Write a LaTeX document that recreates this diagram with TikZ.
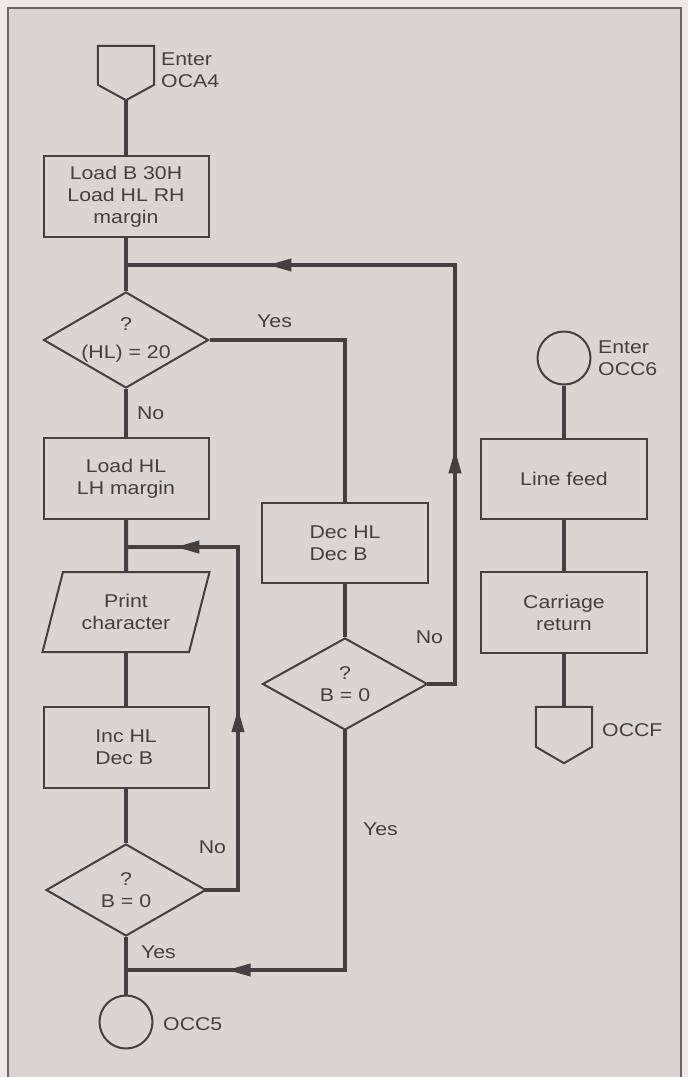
\documentclass[tikz,border=0pt]{standalone}
\usepackage{fontspec}
\setmainfont[FakeStretch=1.15]{Liberation Sans}
\usetikzlibrary{arrows.meta,shapes.geometric,decorations.markings}
\definecolor{ink}{RGB}{66,64,64}
\definecolor{paper}{RGB}{217,213,209}
\definecolor{outer}{RGB}{236,234,231}

\begin{document}
\begin{tikzpicture}[
    x=1pt, y=-1pt,
    every node/.style={font=\fontsize{18.5}{22}\selectfont, text=ink},
    box/.style={draw=ink, line width=2pt, rectangle, minimum width=165pt, minimum height=81pt, align=center, inner sep=0pt},
    dec/.style={draw=ink, line width=2pt, diamond, aspect=1.7, minimum width=165pt, minimum height=96pt, inner xsep=-15pt, inner ysep=-4pt, align=center},
    io/.style={draw=ink, line width=2pt, trapezium, trapezium left angle=68, trapezium right angle=112, trapezium stretches=true, minimum width=167pt, minimum height=80pt, align=center, inner sep=0pt},
    term/.style={draw=ink, line width=2pt, circle, minimum size=53pt, inner sep=0pt},
    offpg/.style={minimum width=56pt, inner sep=0pt},
    shp/.style={draw=ink, line width=2pt, line join=miter},
    ln/.style={draw=ink, line width=4pt},
    lp/.style={ln, line cap=rect},
    midarr/.style={postaction={decorate}, decoration={markings, mark=at position #1 with {\arrow[ink]{Triangle[length=24pt,width=12pt]}}}},
    midarr/.default=0.5,
    lbl/.style={inner sep=0pt},
  ]
  \useasboundingbox (0,0) rectangle (688,1077);
  \fill[outer] (0,0) rectangle (688,1077);
  \fill[paper] (8,8) rectangle (681,1077);
  \draw[ink!80, line width=1.5pt] (8,1077) -- (8,8) -- (681,8) -- (681,1077);

  % left column
  \node[offpg, minimum height=54pt] (oca) at (126,73) {};
  \draw[shp] (oca.north west) -- (oca.north east) -- ([yshift=-39pt]oca.north east)
    -- (oca.south) -- ([yshift=-39pt]oca.north west) -- cycle;
  \node[lbl, anchor=west, align=left] (ocat) at (161,70) {Enter\\OCA4};

  \node[box] (ldb) at (126,196.5) {Load B 30H\\Load HL RH\\margin};
  \coordinate (j1) at (126,265);
  \node[dec] (hl) at (126,340) {?\\[6pt](HL) = 20};
  \node[box] (ldl) at (126,478.5) {Load HL\\LH margin};
  \coordinate (j2) at (126,547);
  \node[io] (prt) at (126,612) {Print\\character};
  \node[box, align=left] (inc) at (126,747.5) {Inc HL\\Dec B};
  \node[dec, minimum width=160pt, minimum height=92pt] (bz1) at (126,890) {?\\B = 0};
  \coordinate (j3) at (126,970);
  \node[term] (occ5) at (126,1022) {};
  \node[lbl, anchor=west] (occ5t) at (163,1024) {OCC5};

  % middle column
  \node[box, align=left, minimum width=166pt, minimum height=80pt] (dch) at (345,543) {Dec HL\\Dec B};
  \node[dec, minimum width=165pt, minimum height=92pt] (bz2) at (345,684) {?\\B = 0};
  \coordinate (c1) at (455,684);
  \coordinate (c2) at (455,265);
  \coordinate (c3) at (238,890);
  \coordinate (c4) at (238,547);
  \coordinate (c5) at (345,970);

  % right column
  \node[term] (occ6) at (564,358) {};
  \node[lbl, anchor=west, align=left] (occ6t) at (598,358) {Enter\\OCC6};
  \node[box, minimum width=166pt, minimum height=80pt] (lf) at (564,479) {Line feed};
  \node[box, minimum width=166pt] (cr) at (564,612.5) {Carriage\\return};
  \node[offpg, minimum height=56pt] (occf) at (564,735) {};
  \draw[shp] (occf.north west) -- (occf.north east) -- ([yshift=-40pt]occf.north east)
    -- (occf.south) -- ([yshift=-40pt]occf.north west) -- cycle;
  \node[lbl, anchor=west] (occft) at (602,730) {OCCF};

  % flow
  \draw[ln] (oca) -- (ldb);
  \draw[ln] (ldb) -- (hl);
  \draw[ln] (hl) -- node[lbl, right=9pt] {No} (ldl);
  \draw[ln] (hl.east) -| node[lbl, pos=0.24, above=10pt] {Yes} (dch.north);
  \draw[ln] (ldl) -- (prt);
  \draw[ln] (prt) -- (inc);
  \draw[ln] (inc) -- (bz1);
  \draw[ln] (bz1) -- node[lbl, pos=0.27, right=13pt] {Yes} (occ5);
  \draw[ln] (dch) -- (bz2);

  % loops back
  \draw[lp] (bz2.east) -- (c1);
  \draw[lp, midarr=0.56] (c1) -- node[lbl, pos=0.112, left=10pt] {No} (c2);
  \draw[lp, midarr=0.57] (c2) -- (j1);
  \draw[lp] (bz1.east) -- (c3);
  \draw[lp, midarr=0.53] (c3) -- node[lbl, pos=0.125, left=10pt] {No} (c4);
  \draw[lp, midarr=0.56] (c4) -- (j2);
  \draw[lp] (bz2.south) -- node[lbl, pos=0.41, right=16pt] {Yes} (c5);
  \draw[lp, midarr=0.54] (c5) -- (j3);

  \draw[ln] (occ6) -- (lf);
  \draw[ln] (lf) -- (cr);
  \draw[ln] (cr) -- (occf);
\end{tikzpicture}
\end{document}
